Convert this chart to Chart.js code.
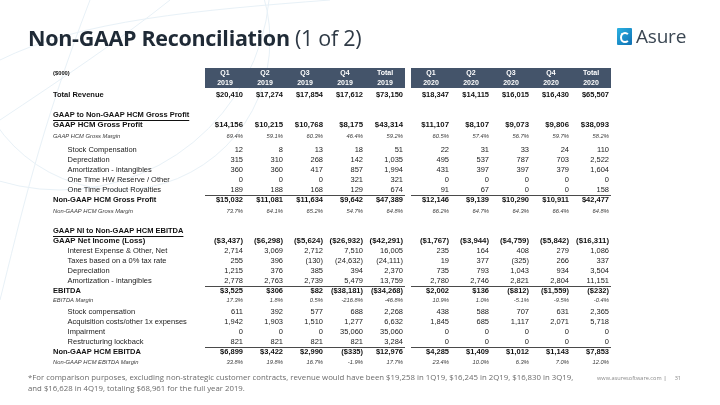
<!DOCTYPE html>
<html><head><meta charset="utf-8">
<script src="https://cdn.jsdelivr.net/npm/chart.js@4.4.1/dist/chart.umd.min.js"></script>
<style>
html,body{margin:0;padding:0;background:#fff;}
#wrap{position:relative;width:720px;height:405px;overflow:hidden;background:#fff;}
#deco{position:absolute;left:0;top:0;}
#c{position:absolute;left:0;top:0;}
.title{position:absolute;left:28px;top:23px;font-family:"Open Sans",sans-serif;font-size:21.5px;color:#1f2a36;white-space:nowrap;letter-spacing:-0.3px;}
.title b{font-weight:700;}
.title span{font-weight:400;color:#2f3a46;}
.logo{position:absolute;left:617px;top:27px;height:20px;}
.logo .ic{position:absolute;left:0;top:1px;width:15px;height:17px;background:linear-gradient(135deg,#2bb3e3,#0f6fb3);border-radius:1px;}
.logo .ic:after{content:"";position:absolute;left:3px;top:4px;width:6px;height:7px;border:2px solid #fff;border-radius:50%;border-right-color:transparent;}
.logo .tx{position:absolute;left:19px;top:-4px;font-family:"Open Sans",sans-serif;font-size:19px;color:#3b4753;letter-spacing:-0.2px;}
.foot{position:absolute;left:28px;top:372px;font-family:"Open Sans",sans-serif;font-size:7.8px;line-height:10.5px;color:#6b6b6b;white-space:nowrap;}
.web{position:absolute;left:597px;top:374px;font-family:"Open Sans",sans-serif;font-size:5.6px;color:#8a8a8a;white-space:nowrap;}
.web i{font-style:normal;color:#555;margin:0 8px 0 2px;}
</style>
</head><body>
<div id="wrap">
<svg id="deco" width="720" height="405">
  <g fill="none" stroke="#e8f1f7" stroke-width="1">
    <circle cx="120" cy="40" r="150"/>
    <circle cx="60" cy="-20" r="210"/>
    <path d="M0,60 C80,20 200,10 330,0"/>
    <path d="M0,120 C60,80 120,40 170,0"/>
    <path d="M0,300 C20,220 40,130 90,0"/>
  </g>
</svg>
<canvas id="c" width="720" height="405"></canvas>
<div class="title"><b>Non-GAAP Reconciliation</b> <span>(1 of 2)</span></div>
<div class="logo"><div class="ic"></div><div class="tx">Asure</div></div>
<div class="foot">*For comparison purposes, excluding non-strategic customer contracts, revenue would have been $19,258 in 1Q19, $16,245 in 2Q19, $16,830 in 3Q19,<br>and $16,628 in 4Q19, totaling $68,961 for the full year 2019.</div>
<div class="web">www.asuresoftware.com<i>|</i>31</div>
</div>
<script>
// ---------- DATA ----------
const COL_QUARTERS = ['Q1','Q2','Q3','Q4','Total','Q1','Q2','Q3','Q4','Total'];
const COL_YEARS    = ['2019','2019','2019','2019','2019','2020','2020','2020','2020','2020'];
const UNITS_LABEL  = '($000)';

const totalRevenue        = [20410,17274,17854,17612,73150,18347,14115,16015,16430,65507];
const gaapGrossProfit     = [14156,10215,10768,8175,43314,11107,8107,9073,9806,38093];
const gaapGrossMargin     = [69.4,59.1,60.3,46.4,59.2,60.5,57.4,56.7,59.7,58.2];
const gpStockComp         = [12,8,13,18,51,22,31,33,24,110];
const gpDepreciation      = [315,310,268,142,1035,495,537,787,703,2522];
const gpAmortization      = [360,360,417,857,1994,431,397,397,379,1604];
const hwReserveOther      = [0,0,0,321,321,0,0,0,0,0];
const productRoyalties    = [189,188,168,129,674,91,67,0,0,158];
const nonGaapGrossProfit  = [15032,11081,11634,9642,47389,12146,9139,10290,10911,42477];
const nonGaapGrossMargin  = [73.7,64.1,65.2,54.7,64.8,66.2,64.7,64.3,66.4,64.8];
const gaapNetIncome       = [-3437,-6298,-5624,-26932,-42291,-1767,-3944,-4759,-5842,-16311];
const interestOther       = [2714,3069,2712,7510,16005,235,164,408,279,1086];
const taxes               = [255,396,-130,-24632,-24111,19,377,-325,266,337];
const ebitdaDepreciation  = [1215,376,385,394,2370,735,793,1043,934,3504];
const ebitdaAmortization  = [2778,2763,2739,5479,13759,2780,2746,2821,2804,11151];
const ebitda              = [3525,306,82,-38181,-34268,2002,136,-812,-1559,-232];
const ebitdaMargin        = [17.3,1.8,0.5,-216.8,-46.8,10.9,1.0,-5.1,-9.5,-0.4];
const ebitdaStockComp     = [611,392,577,688,2268,438,588,707,631,2365];
const acquisitionCosts    = [1942,1903,1510,1277,6632,1845,685,1117,2071,5718];
const impairment          = [0,0,0,35060,35060,0,0,0,0,0];
const restructuring       = [821,821,821,821,3284,0,0,0,0,0];
const nonGaapEbitda       = [6899,3422,2990,-335,12976,4285,1409,1012,1143,7853];
const nonGaapEbitdaMargin = [33.8,19.8,16.7,-1.9,17.7,23.4,10.0,6.3,7.0,12.0];

const ROW_LABELS = ['Total Revenue','GAAP to Non-GAAP HCM Gross Profit','GAAP HCM Gross Profit','GAAP HCM Gross Margin',
  'Stock Compensation','Depreciation','Amortization - intangibles','One Time HW Reserve / Other','One Time Product Royalties',
  'Non-GAAP HCM Gross Profit','Non-GAAP HCM Gross Margin','GAAP NI to Non-GAAP HCM EBITDA','GAAP Net Income (Loss)',
  'Interest Expense & Other, Net','Taxes based on a 0% tax rate','Depreciation','Amortization - intangibles','EBITDA','EBITDA Margin',
  'Stock compensation','Acquisition costs/other 1x expenses','Impairment','Restructuring lockback','Non-GAAP HCM EBITDA','Non-GAAP HCM EBITDA Margin'];
const ROW_SERIES = [totalRevenue,null,gaapGrossProfit,gaapGrossMargin,gpStockComp,gpDepreciation,gpAmortization,hwReserveOther,
  productRoyalties,nonGaapGrossProfit,nonGaapGrossMargin,null,gaapNetIncome,interestOther,taxes,ebitdaDepreciation,ebitdaAmortization,
  ebitda,ebitdaMargin,ebitdaStockComp,acquisitionCosts,impairment,restructuring,nonGaapEbitda,nonGaapEbitdaMargin];
const ROW_KIND = ['total','section','head','margin','item','item','item','item','item','sub','margin','section','head',
  'item','item','item','item','sub','margin','item','item','item','item','sub','margin'];
const ROW_FORMAT = ['$',null,'$','%','n','n','n','n','n','$','%',null,'$','n','n','n','n','$','%','n','n','n','n','$','%'];

// ---------- LAYOUT / STYLE ----------
const ROW_STEP = [0,2,1,1.1,1.4,1,1,1,1,1,1.1,2,1,1,1,1,1,1,0.9,1.2,1,1,1,1,1];
const ROW_Y = []; ROW_STEP.reduce((a,s)=>{a+=s;ROW_Y.push(a);return a;},0);
const GROUP_GAP = 0.15;
const colX = i => i + 0.5 + (i >= 5 ? GROUP_GAP : 0);
const COL_X = COL_QUARTERS.map((_,i)=>colX(i));
const BANDS = [[0,5],[5+GROUP_GAP,10+GROUP_GAP]];
const FAMILY = '"Liberation Sans", Arial, sans-serif';
const VALUE_RIGHT = 18;
const KIND_STYLE = {
  total:  {size:7.5, weight:'bold', style:'normal', color:'#111', indent:0},
  section:{size:7.5, weight:'bold', style:'normal', color:'#111', indent:0},
  head:   {size:7.8, weight:'bold', style:'normal', color:'#111', indent:0},
  sub:    {size:7.5, weight:'bold', style:'normal', color:'#111', indent:0},
  item:   {size:7.5, weight:'normal', style:'normal', color:'#222', indent:7},
  margin: {size:5.8, weight:'normal', style:'italic', color:'#3a3a3a', indent:0}
};
const fontStr = k => { const s = KIND_STYLE[k]; return `${s.style} ${s.weight} ${s.size}px ${FAMILY}`; };

function fmt(v, type){
  if (type === '%') return v.toFixed(1) + '%';
  const body = (type === '$' ? '$' : '') + Math.abs(v).toLocaleString('en-US');
  return v < 0 ? '(' + body + ')' : body;
}

const datasets = [];
ROW_SERIES.forEach((series, r) => {
  if (!series) return;
  datasets.push({ rowIndex: r, data: series.map((v,i)=>({x: COL_X[i], y: ROW_Y[r], v})), pointRadius:0, pointHoverRadius:0, showLine:false });
});

const tablePlugin = {
  id: 'tableCells',
  beforeDraw(chart){
    const {ctx, scales:{x, y}} = chart;
    ctx.save();
    ctx.fillStyle = '#44546a';
    BANDS.forEach(([a,b]) => {
      const x0 = x.getPixelForValue(a), x1 = x.getPixelForValue(b);
      ctx.fillRect(x0, x.top, x1 - x0, x.bottom - x.top);
    });
    ctx.fillStyle = '#111';
    ctx.font = `bold 5.8px ${FAMILY}`;
    ctx.textBaseline = 'middle'; ctx.textAlign = 'left';
    ctx.fillText(UNITS_LABEL, y.left, x.top + 5);
    ctx.restore();
  },
  beforeDatasetsDraw(chart){
    const {ctx, scales:{x, y}} = chart;
    ctx.save();
    ctx.strokeStyle = '#4a4a4a'; ctx.lineWidth = 1;
    ROW_KIND.forEach((k, r) => {
      if (k !== 'sub') return;
      const yy = Math.round((y.getPixelForValue(ROW_Y[r-1]) + y.getPixelForValue(ROW_Y[r])) / 2) + 0.5;
      BANDS.forEach(([a,b]) => {
        ctx.beginPath(); ctx.moveTo(x.getPixelForValue(a), yy); ctx.lineTo(x.getPixelForValue(b), yy); ctx.stroke();
      });
    });
    ROW_KIND.forEach((k, r) => {
      if (k !== 'section') return;
      ctx.font = fontStr(k);
      const w = ctx.measureText(ROW_LABELS[r]).width;
      const yy = Math.round(y.getPixelForValue(ROW_Y[r]) + 4.5) + 0.5;
      ctx.strokeStyle = '#111';
      ctx.beginPath(); ctx.moveTo(y.left, yy); ctx.lineTo(y.left + w, yy); ctx.stroke();
    });
    ctx.restore();
  },
  afterDatasetsDraw(chart){
    const {ctx} = chart;
    ctx.save();
    ctx.textAlign = 'right'; ctx.textBaseline = 'middle';
    chart.data.datasets.forEach((ds, di) => {
      const r = ds.rowIndex, k = ROW_KIND[r];
      ctx.font = fontStr(k);
      ctx.fillStyle = KIND_STYLE[k].color;
      chart.getDatasetMeta(di).data.forEach((el, j) => {
        ctx.fillText(fmt(ds.data[j].v, ROW_FORMAT[r]), el.x + VALUE_RIGHT, el.y);
      });
    });
    ctx.restore();
  }
};

new Chart(document.getElementById('c'), {
  type: 'scatter',
  data: { datasets },
  options: {
    responsive: false, animation: false, devicePixelRatio: 1,
    events: [],
    layout: { padding: { left: 53, top: 68, right: 109, bottom: 38 } },
    plugins: { legend: {display:false}, tooltip: {enabled:false} },
    scales: {
      x: {
        type: 'linear', position: 'top', min: 0, max: 10 + GROUP_GAP,
        grid: {display:false, drawTicks:false}, border: {display:false},
        afterBuildTicks: s => { s.ticks = COL_X.map(v => ({value: v})); },
        afterFit: s => { s.height = 20; },
        ticks: { autoSkip:false, maxRotation:0, minRotation:0, padding:0, color:'#ffffff',
          font: {family: FAMILY, size: 7, weight: 'bold', lineHeight: 1.43},
          callback: (v, i) => [COL_QUARTERS[i], COL_YEARS[i]] }
      },
      y: {
        type: 'linear', reverse: true, min: -0.7, max: 27.2,
        grid: {display:false, drawTicks:false}, border: {display:false},
        afterBuildTicks: s => { s.ticks = ROW_Y.map(v => ({value: v})); },
        afterFit: s => { s.width = 152; },
        ticks: { autoSkip:false, padding:0, crossAlign:'far',
          callback: (v, i) => ' '.repeat((KIND_STYLE[ROW_KIND[i]] || KIND_STYLE.item).indent) + ROW_LABELS[i],
          font: c => { const s = KIND_STYLE[ROW_KIND[c.index]] || KIND_STYLE.item; return {family: FAMILY, size: s.size, weight: s.weight, style: s.style}; },
          color: c => (KIND_STYLE[ROW_KIND[c.index]] || KIND_STYLE.item).color }
      }
    }
  },
  plugins: [tablePlugin]
});
</script>
</body></html>
